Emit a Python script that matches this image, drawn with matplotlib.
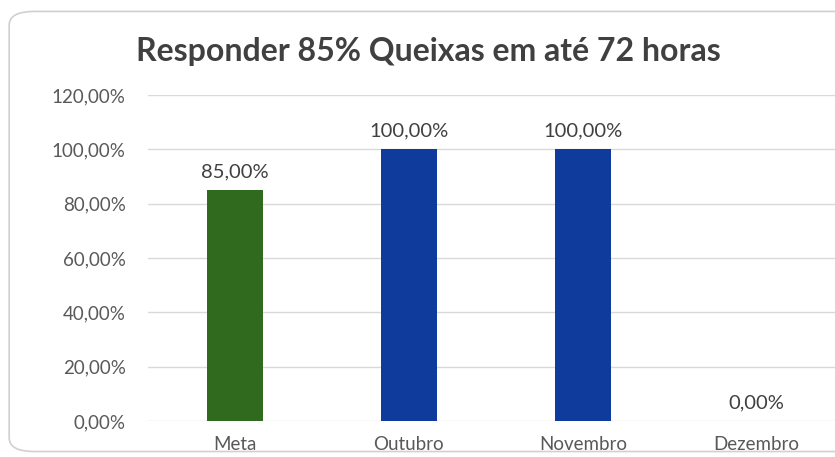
import matplotlib.pyplot as plt
from matplotlib.patches import FancyBboxPatch

categorias = ["Meta", "Outubro", "Novembro", "Dezembro"]
valores = [85.0, 100.0, 100.0, 0.0]
cores = ["#2f6a1f", "#0e3b9c", "#0e3b9c", "#0e3b9c"]
yticks = [0, 20, 40, 60, 80, 100, 120]

def pct(v):
    return f"{v:.2f}".replace(".", ",") + "%"

plt.rcParams['font.family'] = ['Lato', 'DejaVu Sans']

fig = plt.figure(figsize=(8.35, 4.57), dpi=100)
fig.patch.set_facecolor("white")

# moldura arredondada
borda = FancyBboxPatch((0.011, 0.012), 1.05, 0.963, boxstyle="round,pad=0,rounding_size=0.03",
                       transform=fig.transFigure, facecolor="none", edgecolor="#d0d0d0",
                       linewidth=1.2, zorder=-1)
fig.patches.append(borda)

ax = fig.add_axes([148/835, 1 - 421/457, (835 - 148)/835, (421 - 95)/457])
ax.set_facecolor("none")

x = range(len(categorias))
ax.bar(x, valores, width=0.32, color=cores, zorder=3)

for i, v in enumerate(valores):
    ax.text(i, v + 3.5, pct(v), ha="center", va="bottom", fontsize=14.5, color="#404040")

ax.set_ylim(0, 120)
ax.set_xlim(-0.5, 3.45)
ax.set_yticks(yticks)
ax.set_yticklabels([pct(t) for t in yticks], fontsize=13.5, color="#595959")
ax.set_xticks(list(x))
ax.set_xticklabels(categorias, fontsize=13.5, color="#595959")
ax.tick_params(axis="y", length=0, pad=16)
ax.tick_params(axis="x", length=0, pad=11)
ax.yaxis.grid(True, color="#d9d9d9", linewidth=1)
for s in ax.spines.values():
    s.set_visible(False)

fig.text(428/835, 1 - 51/457, "Responder 85% Queixas em até 72 horas", ha="center", va="center",
         fontsize=23, fontweight="bold", color="#404040")

fig.savefig("out.png", dpi=100)
